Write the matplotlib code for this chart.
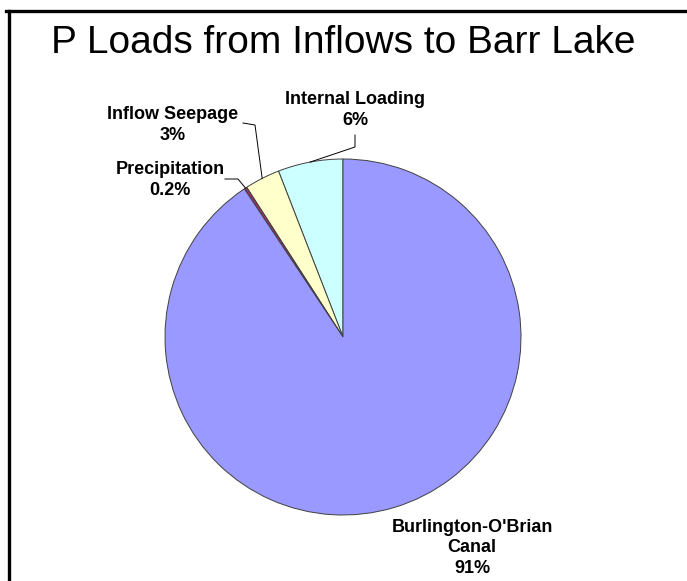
import numpy as np
import matplotlib
matplotlib.use('Agg')
import matplotlib.pyplot as plt
from matplotlib.lines import Line2D

plt.rcParams['font.family'] = ['Liberation Sans', 'DejaVu Sans']

# P loads by source (percent of total)
sources = ['Internal Loading', 'Inflow Seepage', 'Precipitation', "Burlington-O'Brian\nCanal"]
shares = [5.9, 3.2, 0.25, 90.65]
share_labels = ['6%', '3%', '0.2%', '91%']
colors = ['#CCFFFF', '#FFFFCC', '#993366', '#9999FF']

W, H = 687, 581
fig = plt.figure(figsize=(W / 100, H / 100), dpi=100)
fig.patch.set_facecolor('white')

# frame: only top and left edges visible
fig.add_artist(Line2D([6 / W, 1], [1 - 10.5 / H, 1 - 10.5 / H], color='black', lw=2.4, transform=fig.transFigure))
fig.add_artist(Line2D([8.5 / W, 8.5 / W], [0, 1 - 10.5 / H], color='black', lw=2.4, transform=fig.transFigure))

fig.text(343 / W, 1 - 43 / H, 'P Loads from Inflows to Barr Lake', ha='center', va='center',
         fontsize=28, color='black')

# pie centre (343, 337) px, radius 178 px
cx, cy, r = 343, 337, 178
ax = fig.add_axes([(cx - r) / W, (H - cy - r) / H, 2 * r / W, 2 * r / H])
wedges, _ = ax.pie(shares, colors=colors, startangle=90, counterclock=True,
                   wedgeprops=dict(edgecolor='#404040', linewidth=0.7))
ax.set_xlim(-1, 1)
ax.set_ylim(-1, 1)
ax.set_aspect('equal')
ax.axis('off')

def px(x, y):
    return (x - cx) / r, (cy - y) / r

# text centres and leader line start/elbow (in pixels)
text_pos = [(355, 110), (173, 125), (170, 180), (472, 548)]
leaders = [[(355, 135), (355, 147)],
           [(243, 123), (255, 125)],
           [(225, 179), (238, 179)],
           None]

for w, name, lab, tp, ld in zip(wedges, sources, share_labels, text_pos, leaders):
    tx, ty = px(*tp)
    ax.text(tx, ty, name + '\n' + lab, ha='center', va='center', fontsize=13,
            fontweight='bold', linespacing=1.3, clip_on=False)
    if ld is None:
        continue
    mid = np.deg2rad((w.theta1 + w.theta2) / 2)
    ex, ey = np.cos(mid), np.sin(mid)
    p0 = px(*ld[0])
    p1 = px(*ld[1])
    ax.plot([p0[0], p1[0], ex], [p0[1], p1[1], ey], color='black', lw=0.7, clip_on=False)

fig.savefig('out.png', dpi=100)
